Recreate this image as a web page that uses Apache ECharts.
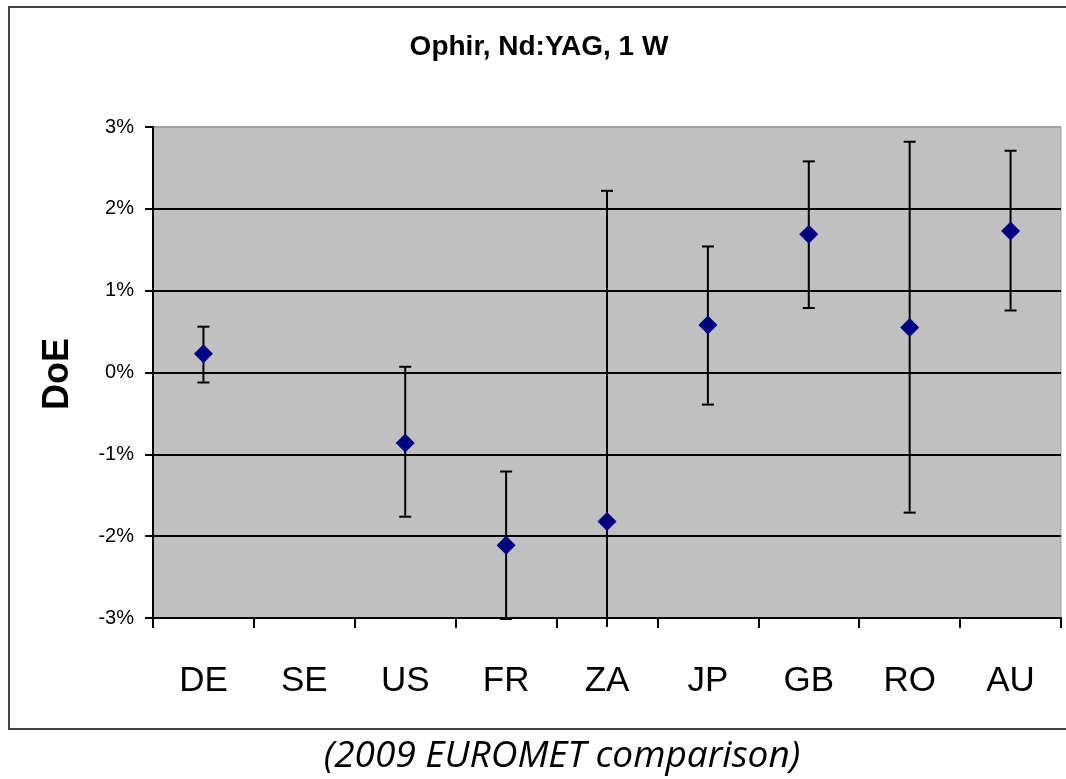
<!DOCTYPE html>
<html>
<head>
<meta charset="utf-8">
<script src="https://cdn.jsdelivr.net/npm/echarts@6/dist/echarts.min.js"></script>
<style>
html,body{margin:0;padding:0;background:#fff;}
#chart{width:1066px;height:779px;}
</style>
</head>
<body>
<div id="chart"></div>
<script>
var categories = ['DE', 'SE', 'US', 'FR', 'ZA', 'JP', 'GB', 'RO', 'AU'];
var doeValues = [0.23, null, -0.86, -2.11, -1.82, 0.58, 1.69, 0.55, 1.73];
var upperValues = [0.56, null, 0.07, -1.21, 2.22, 1.54, 2.58, 2.82, 2.71];
var lowerValues = [-0.11, null, -1.75, -3.00, -3.11, -0.38, 0.80, -1.70, 0.77];
var yTicks = [-3, -2, -1, 0, 1, 2, 3];

var chart = echarts.init(document.getElementById('chart'), null, {renderer: 'canvas'});

var errData = [];
for (var i = 0; i < categories.length; i++) {
  if (doeValues[i] !== null) errData.push([i, lowerValues[i], upperValues[i]]);
}

var option = {
  backgroundColor: '#fff',
  animation: false,
  graphic: [
    {type: 'rect', shape: {x: 9, y: 7, width: 1080, height: 722}, style: {fill: 'none', stroke: '#444', lineWidth: 2}, z: -10},
    {type: 'text', x: 539, y: 47, style: {text: 'Ophir, Nd:YAG, 1 W', font: 'bold 28px "Liberation Sans", Arial, sans-serif', fill: '#000', textAlign: 'center', textVerticalAlign: 'middle'}},
    {type: 'text', x: 58, y: 374, rotation: Math.PI / 2, style: {text: 'DoE', font: 'bold 36px "Liberation Sans", Arial, sans-serif', fill: '#000', textAlign: 'center', textVerticalAlign: 'middle'}},
    {type: 'text', x: 562, y: 756, style: {text: '(2009 EUROMET comparison)', font: 'italic 37px "Open Sans", sans-serif', fill: '#000', textAlign: 'center', textVerticalAlign: 'middle'}}
  ],
  grid: {left: 153, right: 5, top: 127, bottom: 161, show: true, backgroundColor: '#c0c0c0', borderColor: '#a0a0a0', borderWidth: 1},
  xAxis: {
    type: 'category',
    data: categories,
    boundaryGap: true,
    axisLine: {onZero: false, lineStyle: {color: '#000', width: 2}},
    axisTick: {show: true, length: 10, lineStyle: {color: '#000', width: 2}},
    axisLabel: {color: '#000', fontSize: 35, fontFamily: '"Liberation Sans", Arial, sans-serif', margin: 46},
    splitLine: {show: false}
  },
  yAxis: {
    type: 'value',
    min: yTicks[0],
    max: yTicks[yTicks.length - 1],
    interval: 1,
    axisLine: {show: true, lineStyle: {color: '#000', width: 2}},
    axisTick: {show: true, length: 8, lineStyle: {color: '#000', width: 2}},
    axisLabel: {color: '#000', fontSize: 20, fontFamily: '"Liberation Sans", Arial, sans-serif', margin: 19, formatter: '{value}%'},
    splitLine: {show: true, lineStyle: {color: ['#000', '#000', '#000', '#000', '#000', '#000', '#a0a0a0'], width: 2}}
  },
  series: [
    {
      type: 'custom',
      name: 'error',
      data: errData,
      clip: false,
      z: 5,
      renderItem: function (params, api) {
        var x = api.value(0);
        var lo = api.value(1);
        var hi = api.value(2);
        var pHi = api.coord([x, hi]);
        var pLo = api.coord([x, lo]);
        var hw = 6;
        var children = [
          {type: 'line', shape: {x1: pHi[0], y1: pHi[1], x2: pLo[0], y2: pLo[1]}, style: {stroke: '#000', lineWidth: 2}}
        ];
        if (hi <= 3) children.push({type: 'line', shape: {x1: pHi[0] - hw, y1: pHi[1], x2: pHi[0] + hw, y2: pHi[1]}, style: {stroke: '#000', lineWidth: 2}});
        if (lo >= -3) children.push({type: 'line', shape: {x1: pLo[0] - hw, y1: pLo[1] + 1, x2: pLo[0] + hw, y2: pLo[1] + 1}, style: {stroke: '#000', lineWidth: 2}});
        return {type: 'group', children: children};
      }
    },
    {
      type: 'scatter',
      name: 'DoE',
      data: doeValues,
      symbol: 'diamond',
      symbolSize: [19, 19],
      itemStyle: {color: '#000080', opacity: 1},
      z: 6
    }
  ]
};
chart.setOption(option);
</script>
</body>
</html>
